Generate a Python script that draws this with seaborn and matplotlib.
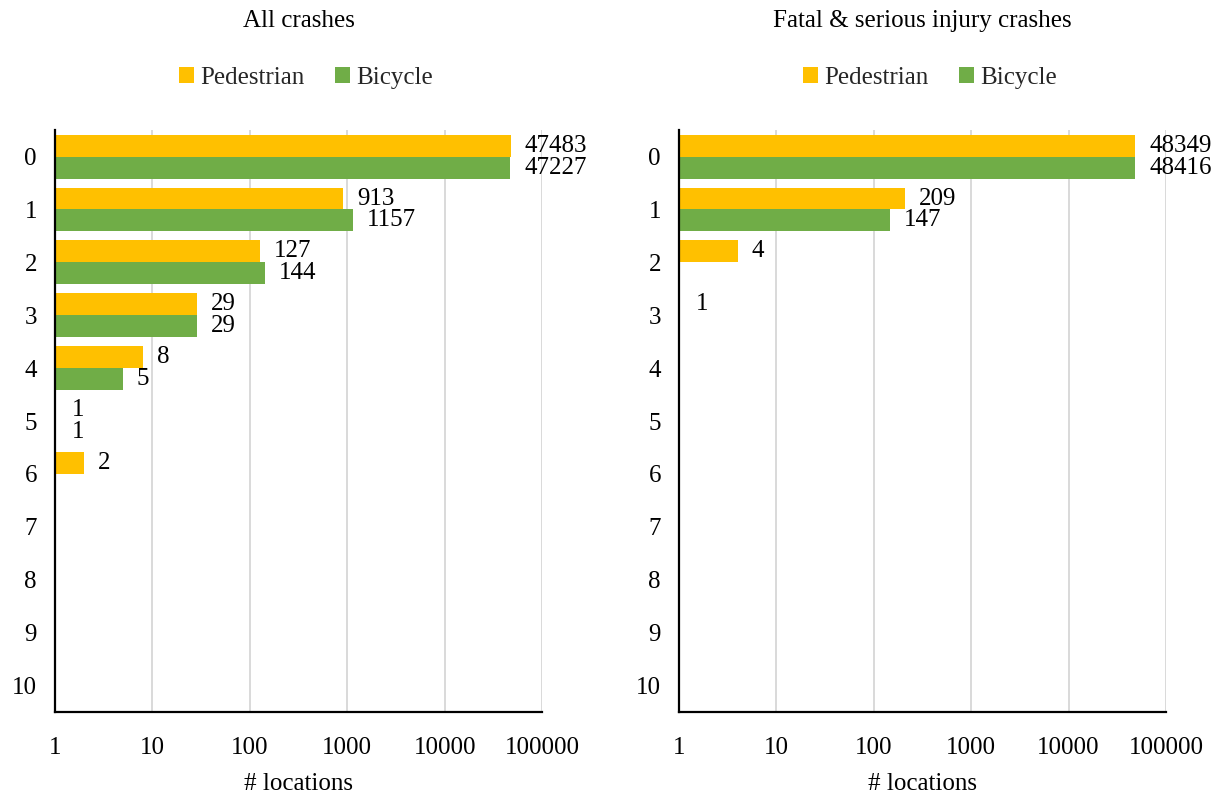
import matplotlib
matplotlib.use("Agg")
import matplotlib.pyplot as plt
import seaborn as sns
import pandas as pd
from matplotlib.patches import Patch

# Number of crashes at a location (category) and the number of locations
categories = [str(i) for i in range(11)]
all_pedestrian = [47483, 913, 127, 29, 8, 1, 2, 0, 0, 0, 0]
all_bicycle = [47227, 1157, 144, 29, 5, 1, 0, 0, 0, 0, 0]
ksi_pedestrian = [48349, 209, 4, 1, 0, 0, 0, 0, 0, 0, 0]
ksi_bicycle = [48416, 147, 0, 0, 0, 0, 0, 0, 0, 0, 0]

series_names = ["Pedestrian", "Bicycle"]
panel_titles = ["All crashes", "Fatal & serious injury crashes"]
x_ticks = [1, 10, 100, 1000, 10000, 100000]
x_label = "# locations"
colors = {"Pedestrian": "#FFC000", "Bicycle": "#70AD47"}

FS = 18

sns.set_theme(style="white")
plt.rcParams["font.family"] = ["Liberation Serif", "DejaVu Serif"]

fig = plt.figure(figsize=(12.31, 7.96), dpi=100)
ax_l = fig.add_axes([0.0447, 0.1055, 0.3956, 0.731])
ax_r = fig.add_axes([0.5516, 0.1055, 0.3956, 0.731])


def frame(ped, bike):
    rows = []
    for c, p, b in zip(categories, ped, bike):
        rows.append({"crashes": c, "series": "Pedestrian", "locations": p})
        rows.append({"crashes": c, "series": "Bicycle", "locations": b})
    return pd.DataFrame(rows)


for ax, title, ped, bike in [
    (ax_l, panel_titles[0], all_pedestrian, all_bicycle),
    (ax_r, panel_titles[1], ksi_pedestrian, ksi_bicycle),
]:
    df = frame(ped, bike)
    sns.barplot(
        data=df, y="crashes", x="locations", hue="series",
        hue_order=series_names, order=categories, palette=colors,
        orient="h", width=0.83, saturation=1, legend=False, ax=ax,
        edgecolor="none", linewidth=0,
    )
    ax.set_xscale("log")
    ax.set_xlim(1, 100000)
    ax.set_ylim(10.5, -0.5)
    ax.set_xticks(x_ticks)
    ax.set_xticklabels([str(t) for t in x_ticks])
    ax.minorticks_off()
    ax.xaxis.grid(True, color="#D9D9D9", linewidth=1.4)
    ax.set_axisbelow(True)
    for s in ["top", "right"]:
        ax.spines[s].set_visible(False)
    for s in ["left", "bottom"]:
        ax.spines[s].set_color("black")
        ax.spines[s].set_linewidth(1.6)
    ax.tick_params(axis="both", length=0, labelsize=FS, colors="black")
    ax.tick_params(axis="x", pad=18)
    ax.tick_params(axis="y", pad=13)
    ax.set_ylabel("")
    ax.set_xlabel(x_label, fontsize=FS, color="black", labelpad=10)

    # value labels at the end of each bar
    for container, vals in zip(ax.containers, [ped, bike]):
        for patch, v in zip(container.patches, vals):
            if v <= 0:
                continue
            yc = patch.get_y() + patch.get_height() / 2
            ax.annotate(
                f"{v}", xy=(max(v, 1), yc), xytext=(10 if v > 1 else 12, 0),
                textcoords="offset points", ha="left", va="center",
                fontsize=FS, color="black",
            )

    # panel title and legend, centred over the plotting area
    bbox = ax.get_position()
    xc = (bbox.x0 + bbox.x1) / 2
    fig.text(xc, 0.973, title, ha="center", va="center", fontsize=FS,
             color="black")
    handles = [Patch(facecolor=colors[n], edgecolor="none") for n in series_names]
    fig.legend(
        handles, series_names, loc="center", bbox_to_anchor=(xc + 0.006, 0.902),
        ncol=2, frameon=False, fontsize=FS, handlelength=0.6,
        handleheight=0.6, handletextpad=0.25, columnspacing=1.2,
        borderpad=0, borderaxespad=0,
    )

fig.savefig("out.png", dpi=100)
